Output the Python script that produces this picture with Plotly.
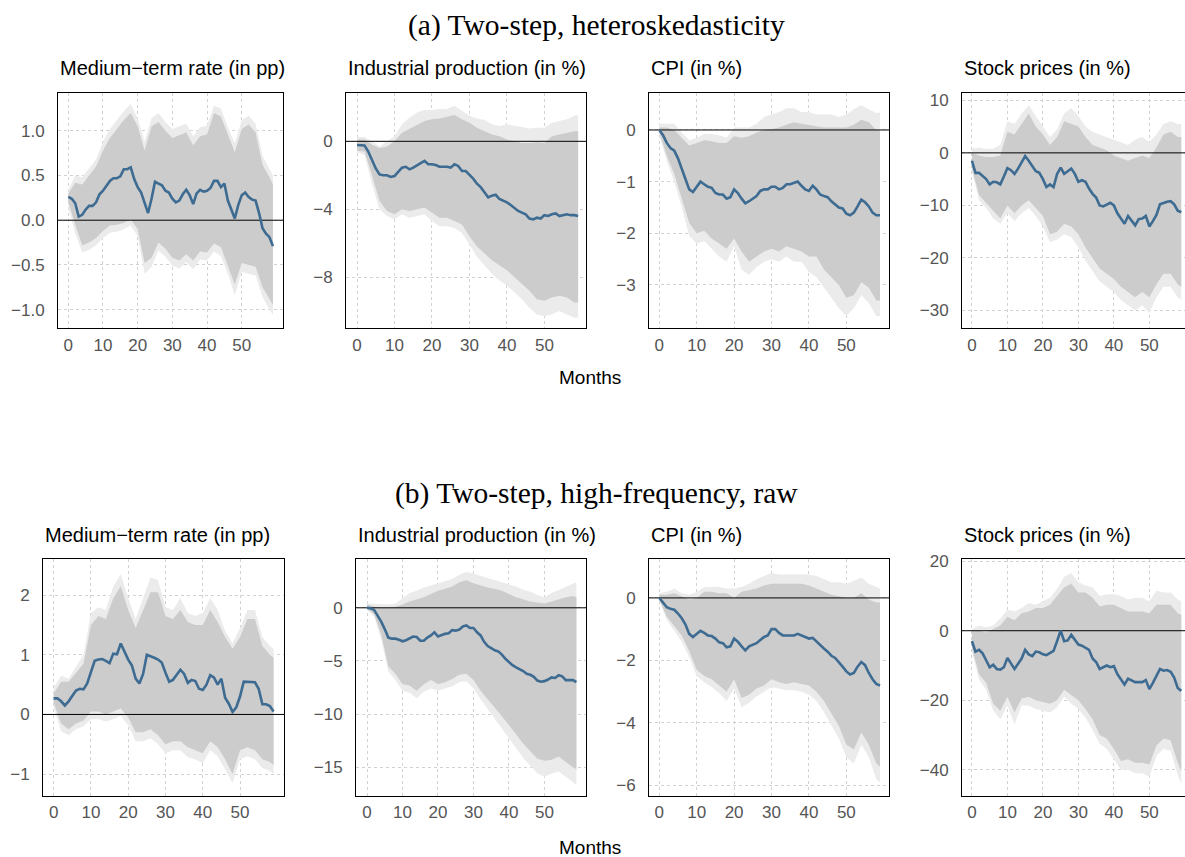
import plotly.graph_objects as go

W, H = 1185, 857
MONTHS = list(range(60))
BAND_MONTHS = list(range(0, 60, 2)) + [59]

# ---------------- (a) Two-step, heteroskedasticity ----------------
A1_IRF = [0.26, 0.24, 0.19, 0.04, 0.06, 0.12, 0.16, 0.16, 0.20, 0.29,
          0.33, 0.38, 0.44, 0.47, 0.47, 0.49, 0.57, 0.57, 0.59, 0.46,
          0.37, 0.31, 0.19, 0.08, 0.24, 0.43, 0.41, 0.39, 0.33, 0.31,
          0.24, 0.20, 0.22, 0.29, 0.34, 0.28, 0.18, 0.30, 0.34, 0.32,
          0.33, 0.36, 0.44, 0.44, 0.37, 0.41, 0.22, 0.13, 0.02, 0.17,
          0.28, 0.31, 0.26, 0.23, 0.22, 0.08, -0.09, -0.15, -0.19, -0.29]
A1_IN_HI = [0.30, 0.42, 0.40, 0.50, 0.60, 0.78, 0.92, 1.02, 1.12, 1.20, 1.05, 0.78, 1.05, 1.10, 1.00, 0.92,
            0.95, 0.98, 0.84, 0.94, 0.96, 1.20, 1.16, 0.95, 0.76, 1.02, 1.07, 0.98, 0.62, 0.48, 0.40]
A1_OUT_HI = [0.34, 0.50, 0.48, 0.58, 0.68, 0.88, 1.02, 1.12, 1.22, 1.30, 1.14, 0.88, 1.14, 1.20, 1.10, 1.02,
             1.05, 1.08, 0.94, 1.04, 1.06, 1.28, 1.25, 1.04, 0.86, 1.12, 1.17, 1.08, 0.72, 0.58, 0.50]
A1_IN_LO = [0.20, -0.05, -0.28, -0.25, -0.20, -0.12, -0.06, -0.05, -0.03, 0.01, -0.10, -0.48, -0.42, -0.25,
            -0.32, -0.42, -0.45, -0.38, -0.45, -0.35, -0.36, -0.26, -0.30, -0.50, -0.72, -0.48, -0.50, -0.52,
            -0.75, -0.88, -0.95]
A1_OUT_LO = [0.14, -0.15, -0.36, -0.33, -0.28, -0.20, -0.14, -0.13, -0.10, -0.06, -0.18, -0.60, -0.52, -0.34,
             -0.41, -0.51, -0.54, -0.47, -0.55, -0.44, -0.45, -0.35, -0.40, -0.60, -0.84, -0.58, -0.60, -0.62,
             -0.86, -1.00, -1.06]

A2_IRF = [-0.22, -0.22, -0.25, -0.6, -1.1, -1.6, -1.95, -2.0, -2.0, -2.1,
          -2.05, -1.8, -1.55, -1.5, -1.65, -1.55, -1.4, -1.3, -1.15, -1.35,
          -1.35, -1.4, -1.5, -1.5, -1.5, -1.55, -1.35, -1.45, -1.75, -1.75,
          -1.95, -2.2, -2.5, -2.7, -3.0, -3.3, -3.2, -3.15, -3.4, -3.5,
          -3.6, -3.75, -3.95, -4.1, -4.2, -4.3, -4.55, -4.6, -4.5, -4.55,
          -4.35, -4.4, -4.3, -4.25, -4.4, -4.35, -4.3, -4.35, -4.35, -4.4]
A2_IN_HI = [0.1, 0.1, -0.2, -0.4, -0.3, 0.0, 0.5, 0.75, 1.0, 1.2, 1.3, 1.35, 1.45, 1.55, 1.3, 1.1,
            0.8, 0.6, 0.4, 0.3, 0.1, 0.0, -0.1, -0.1, -0.05, -0.1, 0.3, 0.4, 0.5, 0.6, 0.6]
A2_OUT_HI = [0.25, 0.25, 0.0, -0.3, 0.0, 0.3, 1.0, 1.4, 1.7, 1.85, 1.85, 1.9, 1.9, 2.1, 1.8, 1.5,
             1.35, 1.25, 1.0, 0.9, 1.0, 0.9, 0.85, 0.75, 0.8, 0.8, 1.1, 1.2, 1.3, 1.5, 1.55]
A2_IN_LO = [-0.55, -0.6, -2.0, -3.5, -4.1, -4.3, -4.0, -4.1, -4.0, -3.9, -4.2, -4.5, -4.5, -4.7, -4.9, -5.6,
            -6.2, -6.6, -7.0, -7.3, -7.6, -8.0, -8.4, -8.8, -9.3, -9.4, -9.2, -9.1, -9.2, -9.5, -9.5]
A2_OUT_LO = [-0.65, -0.8, -2.5, -4.0, -4.4, -4.6, -4.3, -4.5, -4.4, -4.3, -4.7, -5.0, -5.0, -5.1, -5.4, -6.1,
             -6.8, -7.3, -7.8, -8.2, -8.5, -8.9, -9.3, -9.8, -10.2, -10.3, -10.2, -10.0, -10.2, -10.4, -10.4]

A3_IRF = [0.0, -0.1, -0.25, -0.35, -0.4, -0.55, -0.75, -0.95, -1.15, -1.2,
          -1.1, -1.0, -1.05, -1.1, -1.12, -1.22, -1.25, -1.25, -1.33, -1.3,
          -1.15, -1.22, -1.33, -1.42, -1.38, -1.33, -1.28, -1.18, -1.15, -1.15,
          -1.1, -1.1, -1.15, -1.12, -1.05, -1.05, -1.02, -1.0, -1.08, -1.15,
          -1.18, -1.08, -1.15, -1.25, -1.28, -1.3, -1.38, -1.45, -1.5, -1.52,
          -1.62, -1.65, -1.6, -1.48, -1.35, -1.4, -1.48, -1.6, -1.65, -1.65]
A3_IN_HI = [0.05, 0.05, 0.0, -0.15, -0.3, -0.25, -0.2, -0.22, -0.25, -0.25, -0.12, -0.15, -0.12, -0.05, 0.0,
            0.02, 0.05, 0.1, 0.15, 0.12, 0.1, 0.08, 0.05, 0.05, 0.05, 0.05, 0.1, 0.2, 0.15, 0.0, 0.0]
A3_OUT_HI = [0.12, 0.12, 0.12, -0.05, -0.2, -0.15, -0.08, -0.08, -0.1, -0.15, 0.05, 0.05, 0.05, 0.12, 0.25,
             0.3, 0.35, 0.42, 0.42, 0.35, 0.35, 0.3, 0.3, 0.3, 0.25, 0.3, 0.4, 0.48, 0.4, 0.33, 0.34]
A3_IN_LO = [-0.05, -0.5, -0.85, -1.3, -1.8, -2.0, -1.95, -2.1, -2.2, -2.3, -2.1, -2.35, -2.55, -2.45, -2.35,
            -2.3, -2.35, -2.25, -2.3, -2.35, -2.45, -2.45, -2.7, -2.85, -3.0, -3.25, -3.2, -2.95, -3.05, -3.3,
            -3.3]
A3_OUT_LO = [-0.1, -0.6, -1.0, -1.5, -2.05, -2.2, -2.15, -2.3, -2.45, -2.55, -2.25, -2.7, -2.8, -2.65, -2.55,
             -2.5, -2.55, -2.45, -2.55, -2.55, -2.75, -2.85, -3.05, -3.25, -3.45, -3.6, -3.45, -3.2, -3.35,
             -3.6, -3.6]

A4_IRF = [-1.5, -3.8, -3.8, -4.5, -5.0, -6.0, -5.5, -5.6, -6.0, -4.5,
          -2.9, -3.3, -4.0, -3.0, -1.8, -0.6, -1.5, -2.5, -3.5, -3.8,
          -5.0, -6.5, -6.0, -6.5, -4.0, -2.8, -4.0, -3.5, -3.0, -4.0,
          -5.5, -5.2, -5.5, -6.8, -7.8, -8.5, -10.0, -10.2, -9.8, -9.5,
          -10.0, -11.5, -12.5, -13.5, -12.0, -12.8, -13.8, -12.6, -12.5, -12.0,
          -14.0, -13.0, -11.8, -9.8, -9.5, -9.3, -9.2, -9.8, -11.0, -11.3]
A4_IN_HI = [0.0, -0.5, -0.8, -0.8, -0.5, 4.0, 3.5, 5.5, 7.5, 5.0, 3.5, 1.5, 3.0, 6.0, 5.5, 5.0,
            3.0, 1.5, 1.0, 0.5, -0.5, -1.0, -1.5, -1.0, -0.5, -1.0, 1.0, 3.5, 4.0, 3.0, 3.0]
A4_OUT_HI = [0.8, 1.0, 0.8, 0.8, 1.5, 6.0, 5.5, 7.5, 9.0, 7.0, 5.0, 3.0, 4.5, 7.5, 8.5, 7.0,
             5.0, 4.0, 3.5, 3.0, 2.5, 2.0, 1.5, 2.5, 3.0, 2.0, 3.5, 5.5, 6.0, 5.5, 5.5]
A4_IN_LO = [-3.0, -8.0, -9.5, -11.0, -12.5, -10.0, -11.5, -10.0, -9.0, -10.5, -12.0, -15.5, -15.0, -13.5,
            -14.0, -15.5, -18.0, -20.0, -22.0, -23.0, -24.0, -25.5, -26.5, -27.5, -26.5, -27.5, -25.0, -23.0,
            -23.0, -25.0, -25.5]
A4_OUT_LO = [-3.5, -9.0, -10.5, -12.5, -13.5, -11.5, -13.0, -11.5, -10.5, -12.0, -14.0, -17.0, -16.5, -15.5,
             -16.0, -18.0, -20.5, -22.5, -24.5, -25.5, -26.5, -28.0, -29.0, -30.0, -29.0, -30.5, -27.5, -25.5,
             -25.5, -27.5, -28.0]

# ---------------- (b) Two-step, high-frequency, raw ----------------
B1_IRF = [0.27, 0.27, 0.22, 0.15, 0.22, 0.32, 0.40, 0.43, 0.42, 0.52,
          0.70, 0.90, 0.92, 0.93, 0.90, 0.86, 1.02, 1.01, 1.19, 1.05,
          0.92, 0.82, 0.60, 0.52, 0.68, 1.00, 0.98, 0.95, 0.92, 0.87,
          0.70, 0.55, 0.58, 0.66, 0.75, 0.68, 0.53, 0.58, 0.56, 0.43,
          0.41, 0.50, 0.66, 0.62, 0.50, 0.60, 0.28, 0.18, 0.04, 0.12,
          0.30, 0.55, 0.55, 0.54, 0.54, 0.43, 0.17, 0.17, 0.14, 0.05]
B1_IN_HI = [0.35, 0.55, 0.55, 0.70, 0.85, 1.50, 1.65, 1.60, 1.95, 2.15, 1.75, 1.45, 1.75, 2.05, 2.05, 1.65,
            1.60, 1.75, 1.55, 1.50, 1.50, 1.75, 1.55, 1.30, 1.10, 1.30, 1.60, 1.60, 1.15, 1.00, 0.95]
B1_OUT_HI = [0.45, 0.65, 0.60, 0.80, 1.00, 1.70, 1.80, 1.75, 2.15, 2.35, 1.95, 1.60, 1.95, 2.30, 2.25, 1.80,
             1.75, 1.95, 1.70, 1.65, 1.70, 1.95, 1.75, 1.40, 1.20, 1.45, 1.75, 1.75, 1.30, 1.15, 1.10]
B1_IN_LO = [0.20, -0.15, -0.25, -0.15, -0.10, 0.05, 0.05, 0.00, 0.05, 0.10, -0.05, -0.30, -0.30, -0.25, -0.35,
            -0.50, -0.45, -0.45, -0.55, -0.60, -0.65, -0.45, -0.55, -0.75, -1.00, -0.60, -0.55, -0.60, -0.75,
            -0.80, -0.85]
B1_OUT_LO = [0.12, -0.28, -0.35, -0.25, -0.20, -0.08, -0.08, -0.12, -0.08, -0.02, -0.18, -0.45, -0.45, -0.40,
             -0.50, -0.65, -0.60, -0.60, -0.72, -0.75, -0.82, -0.60, -0.70, -0.92, -1.15, -0.75, -0.70, -0.75,
             -0.90, -0.95, -1.00]

B2_IRF = [0.0, -0.05, -0.2, -0.7, -1.3, -2.0, -2.8, -2.9, -2.9, -3.0,
          -3.15, -3.05, -2.9, -2.7, -2.75, -3.1, -3.1, -2.8, -2.6, -2.3,
          -2.7, -2.55, -2.45, -2.4, -2.1, -2.15, -2.05, -1.75, -1.65, -1.9,
          -1.9, -2.3, -2.6, -3.2, -3.6, -3.8, -4.0, -4.1, -4.4, -4.8,
          -5.1, -5.4, -5.6, -5.75, -5.95, -6.2, -6.3, -6.5, -6.85, -6.95,
          -6.9, -6.75, -6.55, -6.6, -6.35, -6.45, -6.8, -6.8, -6.8, -7.0]
B2_IN_HI = [0.3, 0.1, 0.0, 0.0, 0.1, 0.3, 0.6, 0.8, 1.0, 1.3, 1.6, 1.8, 2.0, 2.4, 2.6, 2.3,
            2.1, 1.9, 1.8, 1.6, 1.3, 1.0, 0.8, 0.6, 0.5, 0.4, 0.6, 0.8, 1.0, 1.1, 1.0]
B2_OUT_HI = [0.4, 0.35, 0.3, 0.3, 0.4, 0.9, 1.4, 1.6, 1.9, 2.1, 2.3, 2.5, 2.7, 3.1, 3.4, 3.2,
             3.0, 2.8, 2.6, 2.4, 2.2, 2.0, 1.7, 1.5, 1.2, 1.0, 1.4, 1.7, 2.0, 2.3, 2.4]
B2_IN_LO = [-0.1, -0.6, -2.5, -5.5, -6.2, -7.2, -7.3, -7.8, -7.2, -6.8, -7.2, -7.0, -6.7, -6.3, -6.2, -6.8,
            -7.8, -8.6, -9.4, -10.2, -11.0, -11.9, -12.8, -13.5, -14.2, -14.4, -14.3, -14.0, -14.5, -15.0, -15.2]
B2_OUT_LO = [-0.2, -0.8, -3.0, -6.0, -6.8, -7.8, -8.0, -8.5, -7.9, -7.6, -7.8, -7.6, -7.4, -7.0, -6.9, -7.6,
             -8.6, -9.6, -10.5, -11.4, -12.3, -13.2, -14.1, -14.9, -15.6, -15.9, -15.6, -15.4, -15.9, -16.4,
             -16.7]

B3_IRF = [0.0, -0.15, -0.3, -0.35, -0.38, -0.5, -0.65, -0.85, -1.15, -1.25,
          -1.15, -1.05, -1.12, -1.2, -1.22, -1.3, -1.42, -1.45, -1.58, -1.55,
          -1.3, -1.4, -1.55, -1.68, -1.55, -1.5, -1.45, -1.35, -1.25, -1.2,
          -1.0, -1.0, -1.12, -1.2, -1.2, -1.2, -1.2, -1.15, -1.2, -1.25,
          -1.3, -1.28, -1.4, -1.5, -1.62, -1.72, -1.85, -1.92, -2.05, -2.2,
          -2.35, -2.45, -2.4, -2.2, -2.05, -2.15, -2.4, -2.6, -2.75, -2.8]
B3_IN_HI = [0.1, 0.1, 0.15, 0.05, -0.05, 0.0, 0.2, 0.2, 0.15, 0.15, 0.0, 0.2, 0.25, 0.3, 0.4, 0.45,
            0.45, 0.45, 0.45, 0.45, 0.4, 0.3, 0.2, 0.1, 0.05, 0.0, 0.0, 0.15, -0.05, -0.15, -0.15]
B3_OUT_HI = [0.15, 0.2, 0.3, 0.15, 0.1, 0.2, 0.35, 0.35, 0.35, 0.3, 0.3, 0.35, 0.45, 0.6, 0.7, 0.8,
             0.75, 0.75, 0.75, 0.75, 0.75, 0.7, 0.6, 0.5, 0.5, 0.45, 0.55, 0.65, 0.45, 0.35, 0.3]
B3_IN_LO = [-0.05, -0.6, -0.9, -1.2, -1.7, -2.3, -2.5, -2.6, -2.8, -3.0, -2.6, -3.2, -3.1, -2.9, -2.8, -2.6,
            -2.7, -2.75, -2.7, -2.75, -2.8, -3.0, -3.3, -3.7, -4.1, -4.7, -4.85, -4.3, -4.7, -5.3, -5.4]
B3_OUT_LO = [-0.1, -0.7, -1.05, -1.4, -1.9, -2.5, -2.7, -2.85, -3.05, -3.3, -2.9, -3.5, -3.35, -3.15, -3.0,
             -2.85, -2.9, -2.95, -2.95, -3.0, -3.1, -3.3, -3.65, -4.05, -4.5, -5.1, -5.3, -4.7, -5.1, -5.8, -5.9]

B4_IRF = [-3.0, -6.0, -5.5, -6.5, -8.5, -10.5, -9.8, -11.0, -11.2, -10.5,
          -7.8, -9.5, -11.0, -9.5, -8.0, -5.5, -6.8, -7.3, -6.0, -6.2,
          -6.8, -7.0, -6.5, -5.8, -3.0, 0.0, -3.0, -2.8, -1.2, -2.5,
          -4.0, -4.3, -4.8, -5.5, -8.0, -9.0, -11.0, -10.5, -10.0, -10.5,
          -10.2, -12.5, -14.0, -15.5, -13.8, -14.2, -14.8, -14.8, -14.8, -14.2,
          -16.8, -15.0, -13.2, -11.0, -11.5, -11.3, -11.8, -13.5, -16.5, -17.3]
B4_IN_HI = [0.0, 0.0, -0.5, 0.5, 1.5, 4.0, 3.0, 5.0, 5.5, 6.5, 6.5, 7.5, 10.0, 12.5, 13.5, 11.0,
            11.0, 9.5, 7.0, 7.5, 7.5, 6.5, 5.5, 5.5, 5.5, 5.0, 7.5, 7.5, 7.5, 5.0, 4.5]
B4_OUT_HI = [0.5, 1.5, 1.0, 1.5, 3.5, 6.0, 5.5, 6.5, 8.0, 7.5, 8.5, 9.5, 12.0, 15.5, 16.5, 14.0,
             13.0, 12.5, 10.0, 10.5, 10.5, 10.0, 9.0, 9.5, 9.5, 8.5, 11.5, 11.0, 11.0, 9.0, 8.5]
B4_IN_LO = [-5.0, -12.5, -15.0, -21.0, -23.0, -19.0, -23.5, -19.5, -19.0, -20.0, -20.5, -21.0, -20.0, -17.0,
            -18.5, -20.0, -22.5, -25.5, -30.0, -31.0, -34.0, -37.5, -37.0, -38.0, -38.0, -38.5, -33.0, -31.0,
            -31.5, -38.0, -40.5]
B4_OUT_LO = [-6.0, -14.0, -17.0, -23.0, -25.5, -21.5, -27.0, -21.5, -21.5, -22.5, -23.0, -23.5, -22.0, -19.0,
             -21.0, -22.5, -25.0, -28.5, -32.5, -34.0, -37.0, -40.0, -40.0, -41.0, -41.0, -42.0, -36.0, -34.0,
             -34.5, -41.5, -44.0]

# ---------------- tick labels ----------------
M = "\u2212"
X_TICKS = [0, 10, 20, 30, 40, 50]
X_TEXT = ["0", "10", "20", "30", "40", "50"]
A1_YT, A1_YL = [-1.0, -0.5, 0.0, 0.5, 1.0], [M + "1.0", M + "0.5", "0.0", "0.5", "1.0"]
A2_YT, A2_YL = [-8, -4, 0], [M + "8", M + "4", "0"]
A3_YT, A3_YL = [-3, -2, -1, 0], [M + "3", M + "2", M + "1", "0"]
A4_YT, A4_YL = [-30, -20, -10, 0, 10], [M + "30", M + "20", M + "10", "0", "10"]
B1_YT, B1_YL = [-1, 0, 1, 2], [M + "1", "0", "1", "2"]
B2_YT, B2_YL = [-15, -10, -5, 0], [M + "15", M + "10", M + "5", "0"]
B3_YT, B3_YL = [-6, -4, -2, 0], [M + "6", M + "4", M + "2", "0"]
B4_YT, B4_YL = [-40, -20, 0, 20], [M + "40", M + "20", "0", "20"]

T_RATE = "Medium\u2212term rate (in pp)"
T_IP = "Industrial production (in %)"
T_CPI = "CPI (in %)"
T_STOCK = "Stock prices (in %)"

# ---------------- layout geometry (pixels) ----------------
panels = [
    dict(t=T_RATE, irf=A1_IRF, ih=A1_IN_HI, il=A1_IN_LO, oh=A1_OUT_HI, ol=A1_OUT_LO, yt=A1_YT, yl=A1_YL,
         px=(58, 283, 87, 324), xr=(-2.97, 61.9), yr=(-1.21, 1.42), right=True),
    dict(t=T_IP, irf=A2_IRF, ih=A2_IN_HI, il=A2_IN_LO, oh=A2_OUT_HI, ol=A2_OUT_LO, yt=A2_YT, yl=A2_YL,
         px=(346, 586, 87, 324), xr=(-2.94, 61.1), yr=(-11.02, 2.83), right=True),
    dict(t=T_CPI, irf=A3_IRF, ih=A3_IN_HI, il=A3_IN_LO, oh=A3_OUT_HI, ol=A3_OUT_LO, yt=A3_YT, yl=A3_YL,
         px=(649, 889, 87, 324), xr=(-2.75, 61.4), yr=(-3.84, 0.71), right=True),
    dict(t=T_STOCK, irf=A4_IRF, ih=A4_IN_HI, il=A4_IN_LO, oh=A4_OUT_HI, ol=A4_OUT_LO, yt=A4_YT, yl=A4_YL,
         px=(962, 1185, 87, 324), xr=(-2.8, 60.05), yr=(-33.4, 11.34), right=False),
    dict(t=T_RATE, irf=B1_IRF, ih=B1_IN_HI, il=B1_IN_LO, oh=B1_OUT_HI, ol=B1_OUT_LO, yt=B1_YT, yl=B1_YL,
         px=(43, 284, 557, 795), xr=(-2.86, 61.8), yr=(-1.36, 2.6), right=True),
    dict(t=T_IP, irf=B2_IRF, ih=B2_IN_HI, il=B2_IN_LO, oh=B2_OUT_HI, ol=B2_OUT_LO, yt=B2_YT, yl=B2_YL,
         px=(356, 586, 557, 795), xr=(-3.1, 61.7), yr=(-17.66, 4.55), right=True),
    dict(t=T_CPI, irf=B3_IRF, ih=B3_IN_HI, il=B3_IN_LO, oh=B3_OUT_HI, ol=B3_OUT_LO, yt=B3_YT, yl=B3_YL,
         px=(649, 889, 557, 795), xr=(-2.75, 61.4), yr=(-6.32, 1.23), right=True),
    dict(t=T_STOCK, irf=B4_IRF, ih=B4_IN_HI, il=B4_IN_LO, oh=B4_OUT_HI, ol=B4_OUT_LO, yt=B4_YT, yl=B4_YL,
         px=(962, 1185, 557, 795), xr=(-2.8, 60.05), yr=(-47.4, 20.5), right=False),
]

LINE_COL = "#3d6b92"
DARK = "#cccccc"
LIGHT = "#ebebeb"
GRID = "#d2d2d2"
TICK_COL = "#555555"
SANS = "Liberation Sans, Arial, sans-serif"

fig = go.Figure()
layout = dict(width=W, height=H, margin=dict(l=0, r=0, t=0, b=0), autosize=False,
              paper_bgcolor="white", plot_bgcolor="white", showlegend=False)
annotations = []

for i, p in enumerate(panels):
    n = "" if i == 0 else str(i + 1)
    xa, ya = "x" + n, "y" + n
    l, r, t, b = p["px"]
    for hi, lo, col in ((p["oh"], p["ol"], LIGHT), (p["ih"], p["il"], DARK)):
        fig.add_trace(go.Scatter(x=BAND_MONTHS + BAND_MONTHS[::-1], y=list(hi) + list(lo)[::-1],
                                 fill="toself", fillcolor=col, mode="lines", line=dict(width=0),
                                 hoverinfo="skip", xaxis=xa, yaxis=ya))
    fig.add_trace(go.Scatter(x=list(p["xr"]), y=[0, 0], mode="lines",
                             line=dict(color="black", width=1), hoverinfo="skip", xaxis=xa, yaxis=ya))
    fig.add_trace(go.Scatter(x=MONTHS, y=p["irf"], mode="lines",
                             line=dict(color=LINE_COL, width=2.6), xaxis=xa, yaxis=ya))
    layout["xaxis" + n] = dict(domain=[l / W, r / W], range=list(p["xr"]), anchor=ya,
                               tickvals=X_TICKS, ticktext=X_TEXT, showgrid=True, gridcolor=GRID,
                               griddash="dot", gridwidth=1, zeroline=False, showline=True,
                               linecolor="black", linewidth=1, mirror=True, ticks="",
                               ticklabelstandoff=1, tickfont=dict(family=SANS, size=17, color=TICK_COL))
    layout["yaxis" + n] = dict(domain=[1 - b / H, 1 - t / H], range=list(p["yr"]), anchor=xa,
                               tickvals=p["yt"], ticktext=p["yl"], showgrid=True, gridcolor=GRID,
                               griddash="dot", gridwidth=1, zeroline=False, showline=True,
                               linecolor="black", linewidth=1, mirror=p["right"], ticks="",
                               ticklabelstandoff=9, tickfont=dict(family=SANS, size=17, color=TICK_COL))
    annotations.append(dict(text=p["t"], x=l / W, y=1 - (t - 25) / H, xref="paper", yref="paper",
                            xanchor="left", yanchor="middle", showarrow=False,
                            font=dict(family=SANS, size=20, color="black")))

for txt, ypx in (("(a) Two-step, heteroskedasticity", 19), ("(b) Two-step, high-frequency, raw", 491)):
    annotations.append(dict(text=txt, x=596 / W, y=1 - ypx / H, xref="paper", yref="paper",
                            xanchor="center", yanchor="middle", showarrow=False,
                            font=dict(family="Liberation Serif, Times New Roman, serif", size=29.5,
                                      color="black")))
for ypx in (374, 847):
    annotations.append(dict(text="Months", x=590 / W, y=1 - ypx / H, xref="paper", yref="paper",
                            xanchor="center", yanchor="middle", showarrow=False,
                            font=dict(family=SANS, size=19, color="black")))

layout["annotations"] = annotations
fig.update_layout(**layout)
fig.write_html("out.html")
